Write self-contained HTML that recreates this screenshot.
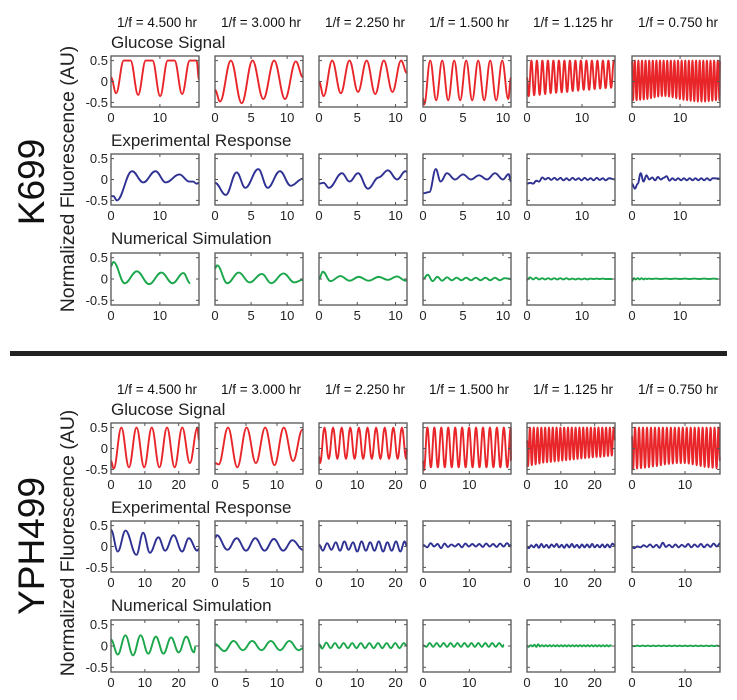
<!DOCTYPE html>
<html><head><meta charset="utf-8">
<style>
html,body{margin:0;padding:0;background:#fff;}
svg{display:block;font-family:"Liberation Sans",sans-serif;}
</style></head>
<body>
<svg id="fig" width="737" height="700" viewBox="0 0 737 700">
  <text transform="translate(44,182) rotate(-90)" text-anchor="middle" font-size="37" fill="#111">K699</text>
  <text transform="translate(74,179) rotate(-90)" text-anchor="middle" font-size="19.5" fill="#222">Normalized Fluorescence (AU)</text>
  <text transform="translate(44,546) rotate(-90)" text-anchor="middle" font-size="37" fill="#111">YPH499</text>
  <text transform="translate(74,543) rotate(-90)" text-anchor="middle" font-size="19.5" fill="#222">Normalized Fluorescence (AU)</text>
  <rect x="10" y="351" width="717" height="5" fill="#222"/>
</svg>
<script>
// ---- data ----
const periodLabels = ["1/f = 4.500 hr","1/f = 3.000 hr","1/f = 2.250 hr","1/f = 1.500 hr","1/f = 1.125 hr","1/f = 0.750 hr"];
const rowTitles = ["Glucose Signal","Experimental Response","Numerical Simulation"];
const yTickValues = [0.5, 0, -0.5];
const yTickLabels = ["0.5","0","-0.5"];
const topXMax = [18, 12.2, 11.5, 11, 16, 18.3];
const botXMax = [26, 14.2, 23, 19, 26, 16.6];
const topXTicks = [[0,10],[0,5,10],[0,5,10],[0,5,10],[0,10],[0,10]];
const botXTicks = [[0,10,20],[0,5,10],[0,10,20],[0,10],[0,10,20],[0,10]];

// periodic series: period, first trough time, start value, end time, end value, troughs, peaks, optional peak plateau width
const topGlucose = [
 {P:4.5, tp:1.05, v0:0.1, tEnd:18, vEnd:0.05, flat:1.4, troughs:[-0.28,-0.32,-0.35,-0.3], peaks:[0.5,0.5,0.5,0.5]},
 {P:3.0, tp:0.7, v0:-0.2, tEnd:12.2, vEnd:0.1, troughs:[-0.48,-0.52,-0.42,-0.42], peaks:[0.5,0.5,0.5,0.48]},
 {P:2.25, tp:0.6, v0:0.0, tEnd:11.5, vEnd:0.2, troughs:[-0.35,-0.28,-0.25,-0.3,-0.25], peaks:[0.5,0.5,0.5,0.5,0.5]},
 {P:1.5, tp:0.15, v0:-0.4, tEnd:11, vEnd:0.1, troughs:[-0.55,-0.45,-0.45,-0.45,-0.45,-0.45,-0.45,-0.42], peaks:[0.5,0.5,0.5,0.5,0.5,0.5,0.5,0.5]},
 {P:1.0, tp:0.3, v0:0.1, tEnd:16, vEnd:0.5, troughs:[-0.35,-0.33,-0.32,-0.3,-0.28,-0.27,-0.26,-0.25,-0.23,-0.22,-0.2,-0.2,-0.18,-0.17,-0.16,-0.15], peaks:[0.5,0.5,0.5,0.5,0.5,0.5,0.5,0.5,0.5,0.5,0.5,0.5,0.5,0.5,0.5,0.5]},
 {P:0.75, tp:0.2, v0:0.5, tEnd:18.3, vEnd:0.5, troughs:[-0.45,-0.45,-0.44,-0.43,-0.42,-0.4,-0.38,-0.36,-0.35,-0.35,-0.36,-0.38,-0.4,-0.42,-0.44,-0.45,-0.46,-0.47,-0.48,-0.48,-0.48,-0.47,-0.46,-0.45], peaks:[0.5]}
];
const botGlucose = [
 {P:4.5, tp:0.8, v0:-0.3, tEnd:26, vEnd:0.2, troughs:[-0.48,-0.45,-0.45,-0.45,-0.45,-0.35], peaks:[0.5]},
 {P:3.0, tp:0.6, v0:-0.35, tEnd:14.2, vEnd:0.45, troughs:[-0.38,-0.45,-0.35,-0.4,-0.3], peaks:[0.5,0.5,0.5,0.5,0.45]},
 {P:2.25, tp:0.3, v0:-0.2, tEnd:23, vEnd:0.0, troughs:[-0.35,-0.25,-0.25,-0.25,-0.25,-0.25,-0.25,-0.25,-0.25,-0.25,-0.25], peaks:[0.5]},
 {P:1.5, tp:0.2, v0:-0.3, tEnd:19, vEnd:-0.3, troughs:[-0.52,-0.45,-0.45,-0.45,-0.45,-0.45,-0.45,-0.45,-0.45,-0.45,-0.45,-0.45,-0.45], peaks:[0.5]},
 {P:1.125, tp:0.3, v0:0.2, tEnd:26, vEnd:0.2, troughs:[-0.42,-0.4,-0.38,-0.36,-0.34,-0.33,-0.32,-0.31,-0.3,-0.29,-0.28,-0.27,-0.26,-0.25,-0.24,-0.23,-0.22,-0.21,-0.2,-0.2,-0.19,-0.18,-0.17], peaks:[0.5]},
 {P:0.75, tp:0.2, v0:0.3, tEnd:16.6, vEnd:-0.3, troughs:[-0.5,-0.48,-0.47,-0.46,-0.45,-0.43,-0.42,-0.4,-0.38,-0.37,-0.36,-0.35,-0.35,-0.35,-0.36,-0.38,-0.4,-0.42,-0.44,-0.45,-0.46,-0.47], peaks:[0.5]}
];
// irregular series: times and values of turning points
const topExpTimes = [
 [0,0.5,1.2,4.3,6.6,9.1,11.2,14,16,16.8,17.5,18],
 [0,1.5,3,4.2,6,7.3,9,10.5,12.2],
 [0,0.6,1.3,3,4,5.1,6.4,7.8,9,10.2,11.3,11.5],
 [0,0.8,1.6,2.2,3,4,5,6,7,8,9,10,10.7,11],
 [0,0.6,1.1,1.7,2.2,2.8,3.3,3.9,4.4,5,5.5,6.1,6.6,7.2,7.7,8.3,8.8,9.4,9.9,10.5,11,11.6,12.1,12.7,13.2,13.8,14.3,14.9,16],
 [0,0.6,1.2,1.8,2.4,3,3.6,4.2,4.8,5.4,6,6.6,7.2,7.8,8.4,9,9.6,10.2,10.8,11.4,12,12.6,13.2,13.8,14.4,15,15.6,16.2,16.8,18.3]
];
const topExpValues = [
 [-0.4,-0.4,-0.5,0.2,-0.07,0.2,-0.07,0.12,-0.05,-0.05,-0.1,-0.08],
 [-0.08,-0.37,0.17,-0.2,0.25,-0.2,0.2,-0.15,0.02],
 [-0.1,-0.08,-0.2,0.15,-0.05,0.15,-0.22,0.05,0.22,0,0.2,0.18],
 [-0.33,-0.3,0.25,-0.05,0.15,0,0.12,0,0.1,0,0.15,0,0.13,-0.05],
 [-0.1,-0.08,-0.1,-0.03,-0.05,0.05,0,0.04,-0.01,0.04,-0.01,0.04,-0.02,0.03,-0.02,0.04,-0.01,0.03,-0.02,0.04,-0.01,0.03,-0.02,0.04,-0.01,0.03,-0.02,0.03,0],
 [-0.1,-0.22,-0.1,0.15,-0.05,0.1,0,0.05,-0.02,0.06,0,0.04,0.08,-0.03,0.03,-0.02,0.03,-0.02,0.03,-0.02,0.03,-0.02,0.03,-0.02,0.03,-0.02,0.03,-0.02,0.03,0.02]
];
const topSimTimes = [
 [0,0.5,2.8,5.3,7.8,10.3,12.6,14.8,16.2],
 [0,0.3,1.7,3.3,4.8,6.5,7.8,9.5,11,12.2],
 [0,0.5,1.5,2.8,4,5.2,6.5,7.8,9,10.2,11.3,11.5],
 [0,0.6,1.2,1.8,2.4,3,3.6,4.2,4.8,5.4,6,6.6,7.2,7.8,8.4,9,9.6,10.2,11],
 [0,0.55,1.1,1.65,2.2,2.75,3.3,3.85,4.4,4.95,5.5,6.05,6.6,7.15,7.7,8.25,8.8,9.35,9.9,10.45,11,11.55,12.1,12.65,13.2,13.75,14.3,15.5],
 [0,0.4,0.8,1.2,1.6,2,2.4,2.8,3.2,3.6,4,5,6,7,8,9,10,11,12,13,14,15,16,17,17.8]
];
const topSimValues = [
 [0.3,0.4,-0.1,0.18,-0.12,0.15,-0.1,0.14,-0.1],
 [0.25,0.32,-0.1,0.15,-0.08,0.12,-0.1,0.13,-0.08,-0.02],
 [0,0.17,-0.05,0.07,-0.04,0.05,-0.04,0.05,-0.02,0.06,-0.04,-0.03],
 [0,0.1,-0.05,0.05,-0.04,0.04,-0.03,0.03,-0.03,0.03,-0.03,0.03,-0.03,0.03,-0.03,0.03,-0.03,0.02,0],
 [-0.02,0.04,-0.01,0.03,-0.01,0.02,-0.01,0.02,-0.01,0.02,-0.01,0.02,-0.01,0.02,-0.01,0.01,-0.01,0.01,-0.01,0.01,-0.01,0.01,0,0.01,0,0.01,0,0],
 [-0.05,0.02,-0.01,0.02,-0.01,0.02,-0.01,0.01,0,0.01,0,0.01,0,0.01,0,0.01,0,0.01,0,0.01,0,0.01,0,0.01,0]
];
const botExpTimes = [
 [0,2,4.3,7.5,9.5,11.5,14,16,18.5,21,23,25.5,26],
 [0,0.3,2,3.5,5,6.5,8,9.5,11,12.5,14.2]
];
const botExpValues = [
 [0.4,-0.12,0.38,-0.2,0.33,-0.15,0.22,-0.1,0.27,-0.12,0.2,-0.1,-0.05],
 [0.2,0.27,-0.08,0.2,-0.1,0.2,-0.1,0.18,-0.1,0.15,-0.08]
];
const botExpPeriodic = [
 null, null,
 {P:2.25, tp:1.0, v0:0.05, tEnd:23, vEnd:0.0, troughs:[-0.1,-0.08,-0.1,-0.08,-0.12,-0.1,-0.1,-0.12,-0.1,-0.12], peaks:[0.08,0.1,0.12,0.1,0.12,0.1,0.12,0.1,0.12,0.12]},
 {P:1.5, tp:0.9, v0:0.04, tEnd:19, vEnd:0.05, troughs:[-0.02,0,-0.04,-0.01,0,-0.02,0,0,-0.01,0,-0.01,0], peaks:[0.08,0.06,0.07,0.05,0.06,0.07,0.06,0.06,0.07,0.06,0.07,0.08]},
 {P:1.5, tp:0.5, v0:0.0, tEnd:26, vEnd:0.02, troughs:[-0.04,-0.02,-0.03,-0.02,-0.03,-0.01,-0.02,-0.03,-0.02,-0.02,-0.03,-0.02,-0.02,-0.02,-0.02,-0.02,-0.02], peaks:[0.03,0.05,0.06,0.04,0.05,0.06,0.04,0.05,0.06,0.04,0.05,0.05,0.06,0.04,0.05,0.05,0.07]},
 {P:1.2, tp:0.4, v0:-0.02, tEnd:16.6, vEnd:0.08, troughs:[-0.04,-0.02,-0.01,-0.02,-0.03,-0.01,-0.02,-0.02,-0.01,-0.02,-0.01,-0.02,-0.01,0], peaks:[0.0,0.03,0.05,0.04,0.09,0.04,0.05,0.04,0.06,0.05,0.06,0.05,0.07,0.08]}
];
const botSim = [
 {P:4.5, tp:2.0, v0:0.15, tEnd:25, vEnd:0.0, troughs:[-0.2,-0.22,-0.18,-0.18,-0.15,-0.15], peaks:[0.25,0.25,0.22,0.2,0.22,0.22]},
 {P:3.0, tp:1.5, v0:0.05, tEnd:14.2, vEnd:-0.05, troughs:[-0.12,-0.1,-0.1,-0.1,-0.1], peaks:[0.12,0.12,0.12,0.12,0.12]},
 {P:2.25, tp:0.8, v0:0.05, tEnd:23, vEnd:0.0, troughs:[-0.06,-0.05,-0.05,-0.05,-0.05,-0.05,-0.05,-0.05,-0.05,-0.05], peaks:[0.08,0.07,0.07,0.07,0.07,0.07,0.07,0.07,0.07,0.07]},
 {P:1.5, tp:0.7, v0:0.02, tEnd:17.5, vEnd:0.03, troughs:[-0.02], peaks:[0.07]},
 {P:1.125, tp:0.5, v0:0.0, tEnd:25, vEnd:0.0, troughs:[-0.02,-0.01,-0.02,-0.01], peaks:[0.02,0.03,0.04,0.02]},
 {P:1.0, tp:0.5, v0:0.0, tEnd:16.6, vEnd:0.0, troughs:[-0.005], peaks:[0.01]}
];

// ---- layout ----
const NS = "http://www.w3.org/2000/svg";
const svg = document.getElementById("fig");
const colLeft = [111, 215, 319, 423, 527, 632];
const panelW = 88;
const yMin = -0.61, yMax = 0.61;
const colors = ["#e8262a", "#2e3192", "#1aa64a"];

function mk(tag, attrs, parent) {
  const e = document.createElementNS(NS, tag);
  for (const k in attrs) e.setAttribute(k, attrs[k]);
  (parent || svg).appendChild(e);
  return e;
}
function periodicPoints(s) {
  const ts = [0], vs = [s.v0];
  let k = 0;
  while (true) {
    const t = s.tp + k * s.P / 2;
    if (t >= s.tEnd) break;
    const i = Math.floor(k / 2);
    const isPeak = (k % 2 === 1);
    const arr = isPeak ? s.peaks : s.troughs;
    const v = arr[Math.min(i, arr.length - 1)];
    if (isPeak && s.flat) {
      if (t - s.flat / 2 < s.tEnd) { ts.push(t - s.flat / 2); vs.push(v); }
      if (t + s.flat / 2 < s.tEnd) { ts.push(t + s.flat / 2); vs.push(v); }
    } else { ts.push(t); vs.push(v); }
    k++;
  }
  ts.push(s.tEnd); vs.push(s.vEnd);
  return [ts, vs];
}
function pathFrom(ts, vs, xs, ys) {
  let d = "M" + xs(ts[0]).toFixed(2) + "," + ys(vs[0]).toFixed(2);
  for (let i = 1; i < ts.length; i++) {
    const x0 = xs(ts[i-1]), x1 = xs(ts[i]), y0 = ys(vs[i-1]), y1 = ys(vs[i]);
    const dx = (x1 - x0) / 2.6;
    d += " C" + (x0+dx).toFixed(2) + "," + y0.toFixed(2) + " " + (x1-dx).toFixed(2) + "," + y1.toFixed(2) + " " + x1.toFixed(2) + "," + y1.toFixed(2);
  }
  return d;
}

function drawPanel(block, row, col, top, h, xmax, xticks, ts, vs) {
  const left = colLeft[col];
  const g = mk("g", {});
  
  
  const xs = t => left + t / xmax * panelW;
  const ys = v => top + (yMax - v) / (yMax - yMin) * h;
  const p = mk("path", {d: pathFrom(ts, vs, xs, ys), fill: "none", stroke: colors[row], "stroke-width": 1.9, "stroke-linejoin": "round"}, g);
  
  
  const fr = mk("rect", {x: left, y: top, width: panelW, height: h, fill: "none", stroke: "#555", "stroke-width": 1.3}, g);
  
  
  yTickValues.forEach((v, i) => {
    const y = ys(v);
    mk("line", {x1: left, x2: left + 3, y1: y, y2: y, stroke: "#555", "stroke-width": 1}, g);
    mk("line", {x1: left + panelW, x2: left + panelW - 3, y1: y, y2: y, stroke: "#555", "stroke-width": 1}, g);
    if (col === 0) {
      const t = mk("text", {x: left - 3, y: y + 4.5, "text-anchor": "end", "font-size": 13, fill: "#222"}, g);
      
      
      t.textContent = yTickLabels[i];
    }
  });
  xticks.forEach(v => {
    const x = xs(v);
    mk("line", {x1: x, x2: x, y1: top + h, y2: top + h - 3, stroke: "#555", "stroke-width": 1}, g);
    mk("line", {x1: x, x2: x, y1: top, y2: top + 3, stroke: "#555", "stroke-width": 1}, g);
    const t = mk("text", {x: x, y: top + h + 15, "text-anchor": "middle", "font-size": 13, fill: "#222"}, g);
    
    
    t.textContent = String(v);
  });
}

function drawBlock(name, off, xmaxArr, xtickArr, glucose, expT, expV, expP, simT, simV, simP) {
  const rowTops = [56 + off, 154 + off, 253 + off];
  const rowH = [51, 51, 52];
  const titleY = [48 + off, 146 + off, 244 + off];
  periodLabels.forEach((lab, c) => {
    const t = mk("text", {x: colLeft[c] + panelW / 2 + 2, y: 27 + off, "text-anchor": "middle", "font-size": 13.5, fill: "#111"});
    
    
    t.textContent = lab;
  });
  rowTitles.forEach((lab, r) => {
    const t = mk("text", {x: 111, y: titleY[r], "font-size": 17, fill: "#222"});
    
    
    t.textContent = lab;
  });
  for (let c = 0; c < 6; c++) {
    let pts = periodicPoints(glucose[c]);
    drawPanel(name, 0, c, rowTops[0], rowH[0], xmaxArr[c], xtickArr[c], pts[0], pts[1]);
    if (expP && expP[c]) pts = periodicPoints(expP[c]); else pts = [expT[c], expV[c]];
    drawPanel(name, 1, c, rowTops[1], rowH[1], xmaxArr[c], xtickArr[c], pts[0], pts[1]);
    if (simP && simP[c]) pts = periodicPoints(simP[c]); else pts = [simT[c], simV[c]];
    drawPanel(name, 2, c, rowTops[2], rowH[2], xmaxArr[c], xtickArr[c], pts[0], pts[1]);
  }
}

drawBlock("k699", 0, topXMax, topXTicks, topGlucose, topExpTimes, topExpValues, null, topSimTimes, topSimValues, null);
drawBlock("yph499", 367, botXMax, botXTicks, botGlucose, botExpTimes, botExpValues, botExpPeriodic, [], [], botSim);
</script>
</body></html>
